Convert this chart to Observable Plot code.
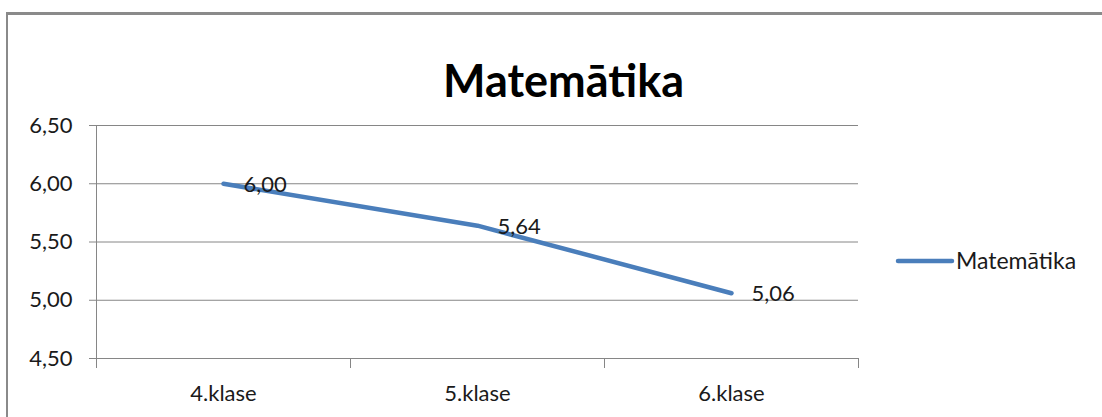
<!DOCTYPE html>
<html>
<head>
<meta charset="utf-8">
<script src="https://cdn.jsdelivr.net/npm/d3@7"></script>
<script src="https://cdn.jsdelivr.net/npm/@observablehq/plot@0.6"></script>
<style>
  html, body { margin: 0; padding: 0; background: #fff; }
  #wrap { position: relative; width: 1102px; height: 417px; overflow: hidden; background: #fff; }
  #border { position: absolute; left: 6px; top: 12px; width: 1200px; height: 600px;
            border-left: 2px solid #8a8a8a; border-top: 3px solid #8a8a8a; box-sizing: border-box; }
  #chart { position: absolute; left: 0; top: 0; }
</style>
</head>
<body>
<div id="wrap">
  <div id="border"></div>
  <div id="chart"></div>
</div>
<script>
const title = "Matemātika";
const seriesName = "Matemātika";
const categories = ["4.klase", "5.klase", "6.klase"];
const values = [6.00, 5.64, 5.06];
const valueLabels = ["6,00", "5,64", "5,06"];
const yTicks = [4.5, 5.0, 5.5, 6.0, 6.5];
const yTickLabels = ["4,50", "5,00", "5,50", "6,00", "6,50"];

const data = categories.map((c, i) => ({cat: c, pos: i + 0.5, value: values[i], label: valueLabels[i]}));
const boundaries = d3.range(categories.length + 1);
const centers = categories.map((c, i) => i + 0.5);

const font = "Lato, 'Open Sans', sans-serif";
const grid = "#868686";
const blue = "#4A7EBB";

const plot = Plot.plot({
  width: 1102,
  height: 417,
  marginLeft: 96,
  marginRight: 244,
  marginTop: 125,
  marginBottom: 59,
  style: {fontFamily: font, fontSize: "22px", color: "#1a1a1a", background: "transparent", overflow: "visible"},
  x: {domain: [0, categories.length], type: "linear"},
  y: {domain: [4.5, 6.5]},
  marks: [
    Plot.ruleY(yTicks, {stroke: grid, strokeWidth: 1}),
    Plot.ruleX([0], {y1: 4.5, y2: 6.5, stroke: grid, strokeWidth: 1}),
    Plot.axisY({ticks: yTicks, tickSize: 7, tickPadding: 17, tickFormat: (d) => yTickLabels[yTicks.indexOf(d)],
                stroke: grid, fill: "#1a1a1a", fontSize: 22, label: null}),
    Plot.axisX({ticks: boundaries, tickSize: 10, tickFormat: () => "", stroke: grid, label: null}),
    Plot.axisX({ticks: centers, tickSize: 0, tickPadding: 27, tickFormat: (d) => categories[centers.indexOf(d)],
                fill: "#1a1a1a", fontSize: 22, label: null}),
    Plot.line(data, {x: "pos", y: "value", stroke: blue, strokeWidth: 4.5, strokeLinecap: "round", strokeLinejoin: "round"}),
    Plot.text(data, {x: "pos", y: "value", text: "label", dx: 20, dy: 1, textAnchor: "start", fontSize: 22, fill: "#1a1a1a"}),
    Plot.text([title], {frameAnchor: "top", dx: 86, dy: -60, fontSize: 45, fontWeight: "bold", fill: "#000"})
  ]
});
document.getElementById("chart").appendChild(plot);

// legend at right of plot
const svg = d3.select(plot);
const lg = svg.append("g").attr("transform", "translate(898,261)");
lg.append("line").attr("x1", 0).attr("x2", 54).attr("y1", 0).attr("y2", 0)
  .attr("stroke", blue).attr("stroke-width", 4.5).attr("stroke-linecap", "round");
lg.append("text").attr("x", 58).attr("y", 0).attr("dy", "0.35em")
  .attr("text-anchor", "start")
  .style("font-family", font).style("font-size", "23px").attr("fill", "#1a1a1a").text(seriesName);
</script>
</body>
</html>
